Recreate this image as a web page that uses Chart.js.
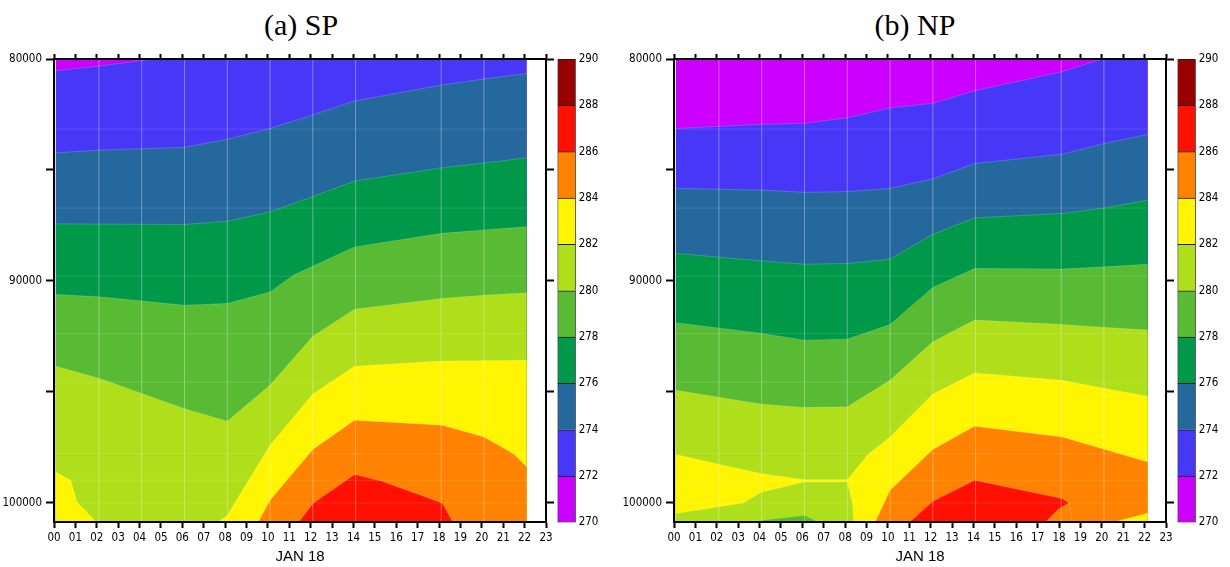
<!DOCTYPE html>
<html><head><meta charset="utf-8">
<script src="https://cdn.jsdelivr.net/npm/chart.js@4.4.1/dist/chart.umd.min.js"></script>
<style>
html,body{margin:0;padding:0;background:#fff;width:1230px;height:567px;overflow:hidden;position:relative}
canvas{position:absolute;top:0}
.title{position:absolute;top:10px;width:200px;text-align:center;font-family:'Liberation Serif','Times New Roman',serif;font-size:30px;line-height:30px;color:#000}
</style></head><body>
<div class="title" style="left:201px">(a) SP</div>
<div class="title" style="left:815px">(b) NP</div>
<canvas id="spMain" width="560" height="567" style="left:0px"></canvas>
<canvas id="spBar" width="70" height="567" style="left:550px"></canvas>
<canvas id="npMain" width="560" height="567" style="left:620px"></canvas>
<canvas id="npBar" width="70" height="567" style="left:1170px"></canvas>
<script>
// ---------- axes / ticks ----------
const HOUR_LABELS = ['00','01','02','03','04','05','06','07','08','09','10','11','12','13','14','15','16','17','18','19','20','21','22','23'];
const Y_TICKS = [80000, 85000, 90000, 95000, 100000];
const Y_LABELS = [80000, 90000, 100000];
const P_TOP = 80000;
const P_BOT = 100870;
const LEVELS = [270, 272, 274, 276, 278, 280, 282, 284, 286, 288, 290];
const COLORS = ['#CC00FF', '#4738F8', '#24689E', '#00994A', '#58BB33', '#AFDE1A', '#FFF500', '#FF8200', '#FF1000', '#990000'];
const X_LABEL = 'JAN 18';

// ---------- (a) SP : isotherm boundaries [hour, pressure] ----------
const SP_TOP = [[0.08, 80000], [22.1, 80000]];
const SP_272 = [[0.08, 80530], [2.1, 80320], [4.7, 80000], [22.1, 80000]];
const SP_274 = [[0.08, 84230], [2.1, 84110], [6.1, 83980], [8.1, 83620], [10.1, 83130], [12.1, 82520], [14.05, 81890], [18.15, 81170], [20.1, 80900], [22.1, 80650]];
const SP_276 = [[0.08, 87430], [2.1, 87440], [6.1, 87460], [8.1, 87310], [10.1, 86890], [12.1, 86200], [14.05, 85500], [18.15, 84900], [20.1, 84690], [22.1, 84450]];
const SP_278 = [[0.08, 90610], [2.1, 90720], [6.1, 91100], [8.1, 91020], [10.1, 90500], [11.2, 89740], [14.05, 88470], [18.15, 87860], [20.1, 87710], [22.1, 87560]];
const SP_280 = [[0.08, 93850], [2.1, 94390], [6.1, 95760], [8.1, 96330], [10.1, 94700], [12.1, 92500], [14.05, 91280], [18.15, 90790], [20.1, 90650], [22.1, 90540]];
const SP_282 = [[0.08, 98620], [0.78, 98990], [1.08, 99970], [1.98, 100870], [7.67, 100870], [8.1, 100570], [10.1, 97410], [12.1, 95100], [14.05, 93850], [18.15, 93610], [22.1, 93580]];
const SP_284 = [[0.08, 100870], [9.55, 100870], [10.1, 99890], [12.1, 97600], [14.05, 96280], [18.15, 96510], [20.1, 97040], [21.48, 97790], [22.1, 98390]];
const SP_286 = [[0.08, 100870], [11.45, 100870], [12.1, 100040], [14.05, 98730], [15.3, 99020], [18.15, 100010], [18.64, 100870], [22.1, 100870]];

// ---------- (b) NP ----------
const NP_TOP = [[0.08, 80000], [22.15, 80000]];
const NP_272 = [[0.08, 83130], [4.1, 82945], [6.1, 82900], [8.1, 82650], [10.1, 82200], [12.1, 82000], [14.05, 81430], [18.15, 80570], [20.0, 80000], [22.15, 80000]];
const NP_274 = [[0.08, 85830], [4.1, 85910], [6.1, 86010], [8.1, 85980], [10.1, 85830], [12.1, 85400], [14.05, 84710], [18.15, 84290], [20.15, 83800], [22.15, 83400]];
const NP_276 = [[0.08, 88760], [4.1, 89100], [6.1, 89250], [8.1, 89215], [10.1, 89020], [12.1, 87900], [14.05, 87160], [18.15, 86960], [20.15, 86710], [22.15, 86360]];
const NP_278 = [[0.08, 91890], [4.1, 92370], [6.1, 92675], [8.1, 92630], [10.1, 91970], [12.1, 90300], [14.05, 89440], [18.15, 89470], [20.15, 89370], [22.15, 89250]];
const NP_280 = [[0.08, 94930], [4.1, 95560], [6.1, 95710], [8.1, 95680], [10.1, 94480], [12.1, 92750], [14.05, 91770], [18.15, 91970], [20.15, 92100], [22.15, 92220]];
const NP_282 = [[0.08, 97830], [2.1, 98270], [4.1, 98690], [6.1, 98960], [8.1, 98960], [9.1, 97790], [10.1, 97040], [12.1, 95100], [14.05, 94150], [18.15, 94480], [20.15, 94850], [22.15, 95200]];
const NP_282_LOW = [[0.08, 100490], [3.23, 100010], [4.1, 99520], [6.1, 99070], [8.1, 99070], [8.35, 100040], [8.4, 100870], [22.15, 100870]];
const NP_280_LOW = [[0.08, 100870], [3.7, 100870], [4.1, 100790], [6.1, 100570], [6.75, 100870], [22.15, 100870]];
const NP_284 = [[0.08, 100870], [9.41, 100870], [10.1, 99440], [12.1, 97600], [14.05, 96550], [18.15, 97040], [20.15, 97600], [22.15, 98160]];
const NP_286 = [[0.08, 100870], [11.02, 100870], [12.1, 99940], [14.05, 98990], [18.15, 99816], [18.47, 100014], [18.6, 100870], [22.15, 100870]];
const NP_286_LOW = [[0.08, 100870], [17.38, 100870], [18.0, 100266], [18.47, 100014], [18.6, 100870], [22.15, 100870]];
const NP_284_LOW = [[0.08, 100870], [20.58, 100870], [22.15, 100465]];

// faint model-grid lines
const MESH_HOURS = [2.1, 4.1, 6.1, 8.1, 10.1, 12.1, 14.1, 18.1, 20.1];
const MESH_PRES = [83160, 86720, 89790, 92370, 94560, 97790, 98990, 100010];

// ---------- layers (painter order, band colour below each boundary) ----------
const SP_LAYERS = [[SP_TOP, 0], [SP_272, 1], [SP_274, 2], [SP_276, 3], [SP_278, 4], [SP_280, 5], [SP_282, 6], [SP_284, 7], [SP_286, 8]];
const NP_LAYERS = [[NP_TOP, 0], [NP_272, 1], [NP_274, 2], [NP_276, 3], [NP_278, 4], [NP_280, 5], [NP_282, 6], [NP_282_LOW, 5], [NP_280_LOW, 4], [NP_284, 7], [NP_286, 8], [NP_286_LOW, 7], [NP_284_LOW, 6]];

const TICK_FONT = {family: "'DejaVu Sans Condensed','Liberation Sans Narrow','Liberation Sans',Arial,sans-serif", size: 11.5};
const BORDER = {display: true, color: '#000', width: 2, z: 1};

function mainChart(id, layers, xStart, xEnd) {
  const datasets = layers.map(([pts, ci], i) => ({
    data: pts.map(([x, y]) => ({x, y})),
    backgroundColor: COLORS[ci],
    borderColor: 'rgba(255,255,255,0.25)',
    borderWidth: 0.7,
    fill: {value: P_BOT},
    pointRadius: 0, tension: 0, order: -i
  }));
  MESH_HOURS.filter(h => h < xEnd).forEach(h => datasets.push({
    data: [{x: h, y: P_TOP}, {x: h, y: P_BOT}], borderColor: 'rgba(255,255,255,0.13)', borderWidth: 1,
    fill: false, pointRadius: 0, order: -1000
  }));
  MESH_PRES.forEach(p => datasets.push({
    data: [{x: xStart, y: p}, {x: xEnd, y: p}], borderColor: 'rgba(255,255,255,0.13)', borderWidth: 1,
    fill: false, pointRadius: 0, order: -1000
  }));
  const hourTicks = s => { s.ticks = HOUR_LABELS.map((_, i) => ({value: i})); };
  const yTicks = s => { s.ticks = Y_TICKS.map(v => ({value: v})); };
  const tickGrid = len => ({drawOnChartArea: false, drawTicks: true, tickLength: len, tickWidth: 2, tickColor: '#000', color: '#000'});
  new Chart(document.getElementById(id), {
    type: 'line',
    data: {datasets},
    options: {
      responsive: false, animation: false, events: [],
      layout: {padding: 0},
      plugins: {legend: {display: false}, tooltip: {enabled: false}, title: {display: false}},
      scales: {
        x: {type: 'linear', position: 'bottom', min: 0, max: 23, afterBuildTicks: hourTicks,
            afterFit: s => { s.height = 45; },
            ticks: {autoSkip: false, maxRotation: 0, font: TICK_FONT, color: '#000', padding: 3, callback: v => HOUR_LABELS[v]},
            grid: tickGrid(6), border: BORDER,
            title: {display: true, text: X_LABEL, color: '#000', font: {family: "'Liberation Sans',Arial,sans-serif", size: 15}, padding: {top: 0, bottom: 1}}},
        xT: {type: 'linear', position: 'top', min: 0, max: 23, afterBuildTicks: hourTicks,
            afterFit: s => { s.height = 59; },
            ticks: {display: false}, grid: tickGrid(5), border: BORDER},
        y: {type: 'linear', position: 'left', min: P_TOP, max: P_BOT, reverse: true, afterBuildTicks: yTicks,
            afterFit: s => { s.width = 54; },
            ticks: {font: TICK_FONT, color: '#000', padding: 4, callback: v => Y_LABELS.includes(v) ? String(v) : ''},
            grid: tickGrid(8), border: BORDER},
        yR: {type: 'linear', position: 'right', min: P_TOP, max: P_BOT, reverse: true, afterBuildTicks: yTicks,
            afterFit: s => { s.width = 14; },
            ticks: {display: false}, grid: tickGrid(8), border: BORDER}
      }
    }
  });
}

function colorBar(id) {
  const datasets = COLORS.map((c, i) => ({
    data: [[LEVELS[i], LEVELS[i + 1]]],
    backgroundColor: c, borderColor: '#1a1a1a',
    borderWidth: {top: 1, left: 1, right: 1, bottom: i === 0 ? 1 : 0},
    borderSkipped: false, barPercentage: 1, categoryPercentage: 1, grouped: false
  }));
  new Chart(document.getElementById(id), {
    type: 'bar',
    data: {labels: ['K'], datasets},
    options: {
      responsive: false, animation: false, events: [],
      layout: {padding: {left: 7.5, top: 59, bottom: 44.5, right: 0}},
      plugins: {legend: {display: false}, tooltip: {enabled: false}},
      scales: {
        x: {display: false},
        y: {position: 'right', min: LEVELS[0], max: LEVELS[LEVELS.length - 1],
            afterBuildTicks: s => { s.ticks = LEVELS.map(v => ({value: v})); },
            afterFit: s => { s.width = 44.3; },
            ticks: {font: TICK_FONT, color: '#000', padding: 3},
            grid: {display: false, drawTicks: false}, border: {display: false}}
      }
    }
  });
}

mainChart('spMain', SP_LAYERS, 0.08, 22.1);
colorBar('spBar');
mainChart('npMain', NP_LAYERS, 0.08, 22.15);
colorBar('npBar');
</script>
</body></html>
